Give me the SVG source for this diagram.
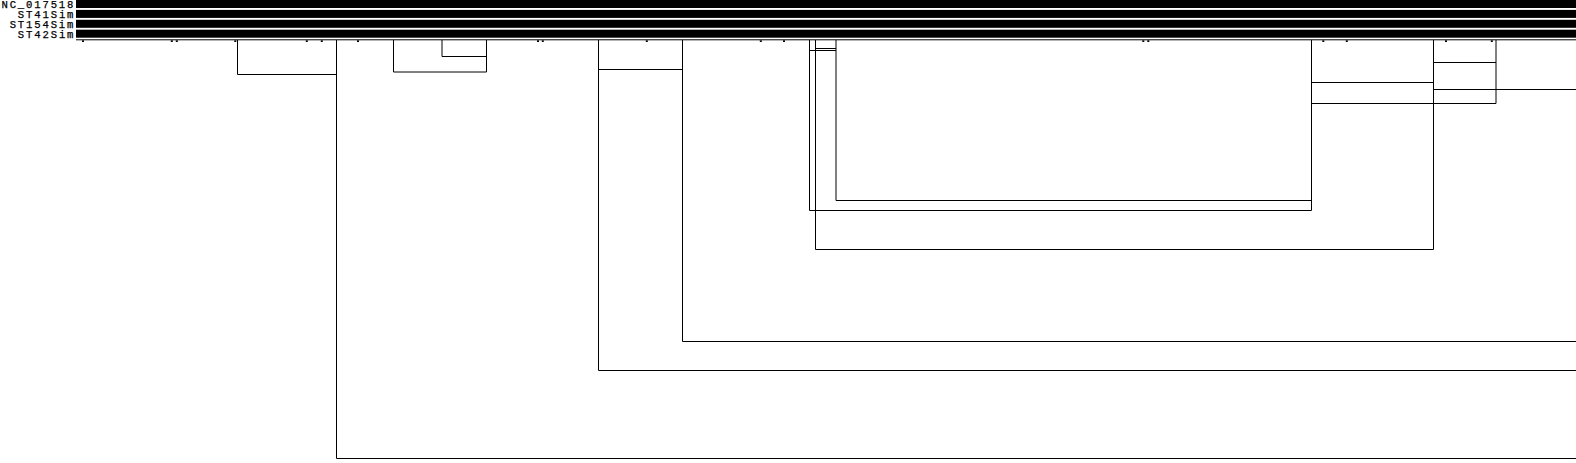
<svg xmlns="http://www.w3.org/2000/svg" width="1576" height="463" viewBox="0 0 1576 463">
<style>
.lbl{font-family:"Liberation Mono","DejaVu Sans Mono",monospace;font-size:10.6px;letter-spacing:1.85px;fill:#000;text-anchor:end;stroke:#000;stroke-width:0.25px}
.bar{fill:#000}
.ln{fill:none;stroke:#000;stroke-width:1}
.tk{fill:#000}
</style>
<rect width="1576" height="463" fill="#fff"/>
<g id="seq-NC_017518"><rect class="bar" x="76" y="0" width="1500" height="8"/><text class="lbl" x="75.3" y="8.3">NC_017518</text></g>
<g id="seq-ST41Sim"><rect class="bar" x="76" y="9.9" width="1500" height="8"/><text class="lbl" x="75.3" y="18.1">ST41Sim</text></g>
<g id="seq-ST154Sim"><rect class="bar" x="76" y="19.8" width="1500" height="8"/><text class="lbl" x="75.3" y="27.9">ST154Sim</text></g>
<g id="seq-ST42Sim"><rect class="bar" x="76" y="29.7" width="1500" height="8"/><text class="lbl" x="75.3" y="37.7">ST42Sim</text></g>
<g id="axis">
<path class="ln" d="M76 39.8H1576"/>
<g class="tk">
<rect x="82" y="40.3" width="2" height="1.7"/>
<rect x="170.8" y="40.3" width="2" height="1.7"/>
<rect x="175.8" y="40.3" width="2" height="1.7"/>
<rect x="234.3" y="40.3" width="2" height="1.7"/>
<rect x="305.8" y="40.3" width="2" height="1.7"/>
<rect x="320.8" y="40.3" width="2" height="1.7"/>
<rect x="357" y="40.3" width="2" height="1.7"/>
<rect x="537" y="40.3" width="2" height="1.7"/>
<rect x="541.8" y="40.3" width="2" height="1.7"/>
<rect x="645.8" y="40.3" width="2" height="1.7"/>
<rect x="759.8" y="40.3" width="2" height="1.7"/>
<rect x="783" y="40.3" width="2" height="1.7"/>
<rect x="1142.3" y="40.3" width="2" height="1.7"/>
<rect x="1147.3" y="40.3" width="2" height="1.7"/>
<rect x="1322.3" y="40.3" width="2" height="1.7"/>
<rect x="1345.8" y="40.3" width="2" height="1.7"/>
<rect x="1445" y="40.3" width="2" height="1.7"/>
<rect x="1490.8" y="40.3" width="2" height="1.7"/>
</g>
</g>
<g id="connectors" class="ln">
<path d="M237.5 40V74.5H336.5"/>
<path d="M336.5 40V458.5H1576"/>
<path d="M393.5 40V72H486.5V40"/>
<path d="M442 40V56.5H486.5"/>
<path d="M598.5 40V370.5H1576"/>
<path d="M598.5 69.5H682.5"/>
<path d="M682.5 40V341.5H1576"/>
<path d="M815.5 48.5H836"/>
<path d="M809.5 50.5H836"/>
<path d="M836 40V200.5H1311.5"/>
<path d="M809.5 40V210.5H1311.5V40"/>
<path d="M815.5 40V249.5H1433.5V40"/>
<path d="M1433.5 62.5H1496"/>
<path d="M1311.5 82.5H1433.5"/>
<path d="M1433.5 89.5H1576"/>
<path d="M1311.5 103.5H1496V40"/>
</g>
</svg>
